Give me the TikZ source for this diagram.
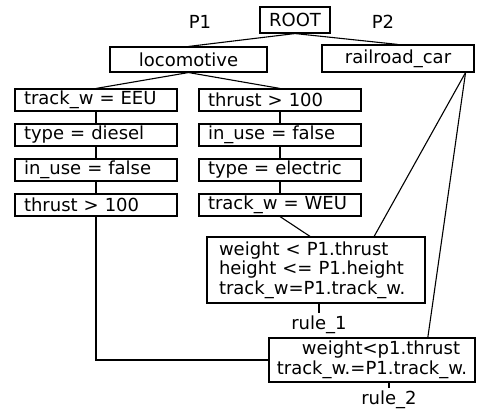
\documentclass[tikz,border=0pt]{standalone}
\usepackage{fontspec}
\setmainfont{DejaVu Sans}
\usetikzlibrary{positioning,calc}
\newcommand{\plotfont}{\fontsize{18}{19.5}\selectfont}
\tikzset{
    box/.style={rectangle, draw=black, line width=1.1pt, inner sep=0pt, font=\plotfont},
    condbox/.style={box, minimum height=22pt, text width=144pt, inner xsep=9pt, align=left},
    rulebox/.style={box, align=left},
    leg/.style={line width=1.1pt, black},
    plabel/.style={font=\plotfont},
}

\begin{document}
\begin{tikzpicture}[x=1pt, y=-1pt]
    \useasboundingbox (0,0) rectangle (477,409);

    % Root and the two patterns
    \node[box, minimum width=70pt, minimum height=26pt] (root) at (295,20) {ROOT};
    \node[plabel] (p1) at (200,22) {P1};
    \node[plabel] (p2) at (383,22) {P2};
    \node[box, minimum width=157pt, minimum height=25pt] (loco) at (188.5,59.5) {locomotive};
    \node[box, minimum width=152pt, minimum height=27pt] (rail) at (398,58.5) {railroad\_car};
    \draw[leg] (root.south) -- (loco.north);
    \draw[leg] (root.south) -- (rail.north);

    % Conditions of P1
    \foreach \y/\name/\txt in {100/l1/{track\_w = EEU}, 135/l2/{type = diesel},
                               170/l3/{in\_use = false}, 205/l4/{thrust > 100}} {
        \node[condbox] (\name) at (96,\y) {\txt};
    }
    \foreach \y/\name/\txt in {100/r1/{thrust > 100}, 135/r2/{in\_use = false},
                               170/r3/{type = electric}, 205/r4/{track\_w = WEU}} {
        \node[condbox] (\name) at (280,\y) {\txt};
    }
    \draw[leg] (loco.south) -- (l1.north);
    \draw[leg] (loco.south) -- (r1.north);
    \foreach \a/\b in {l1/l2, l2/l3, l3/l4, r1/r2, r2/r3, r3/r4} {
        \draw[leg] (\a.south) -- (\b.north);
    }

    % Rules
    \node[rulebox, minimum width=218pt, minimum height=66pt, text width=194pt] (wbox) at (316,270)
        {weight \textless{} P1.thrust\\height \textless= P1.height\\track\_w=P1.track\_w.};
    \node[plabel] (rulea) at (319,325) {rule\_1};
    \node[box, align=center, minimum width=206pt, minimum height=44pt, text width=204pt] (rbox) at (372,360)
        {\hspace*{18pt}weight\textless p1.thrust\\track\_w.=P1.track\_w.};
    \node[plabel] (ruleb) at (389,400) {rule\_2};
    \coordinate (railfoot) at ($(rail.south east)+(-9,0)$);

    \draw[leg] (r4.south) -- (wbox.100);
    \draw[leg] (railfoot) -- (wbox.30);
    \draw[leg] (railfoot) -- (rbox.22);
    \draw[leg] (l4.south) |- (rbox.west);
    \draw[leg] (rulea.north) -- (rulea.north |- wbox.south);
    \draw[leg] (ruleb.north) -- (ruleb.north |- rbox.south);
\end{tikzpicture}
\end{document}
